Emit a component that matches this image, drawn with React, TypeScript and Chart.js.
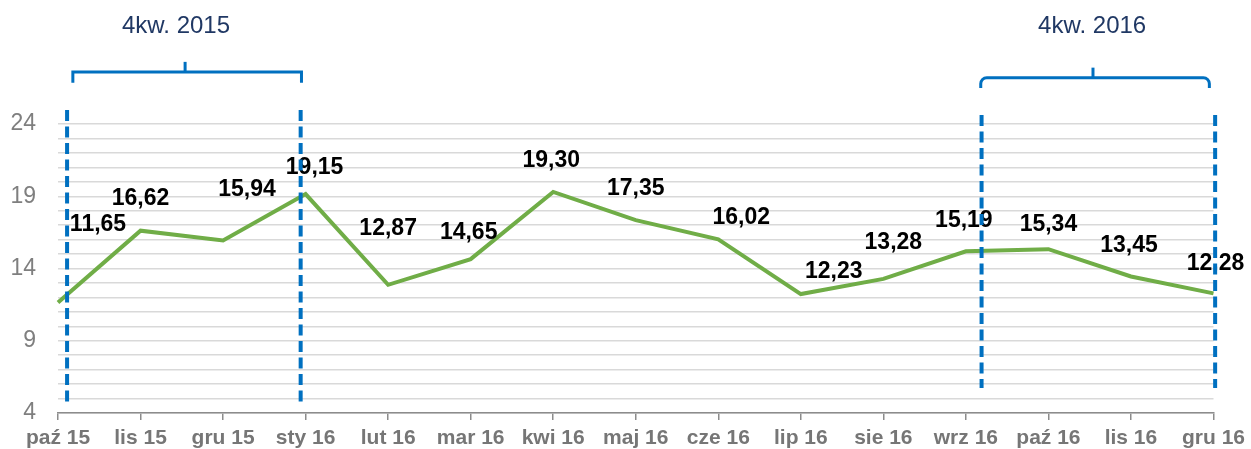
import React, { useEffect, useRef } from 'react';
import { Chart, registerables } from 'chart.js';

Chart.register(...registerables);

const categories = ['paź 15', 'lis 15', 'gru 15', 'sty 16', 'lut 16', 'mar 16', 'kwi 16', 'maj 16', 'cze 16', 'lip 16', 'sie 16', 'wrz 16', 'paź 16', 'lis 16', 'gru 16'];
const values = [11.65, 16.62, 15.94, 19.15, 12.87, 14.65, 19.30, 17.35, 16.02, 12.23, 13.28, 15.19, 15.34, 13.45, 12.28];
const yTickLabels = [4, 9, 14, 19, 24];
const quarterLabels = ['4kw. 2015', '4kw. 2016'];

// label placement offsets (px) relative to each point
const labelDx = [40, 0, 24, 9, 0, -2, -2, 0, 23, 33, 10, -2, 0, -2, 2];
const labelDy = [-78, -32, -51, -26, -56, -26, -31, -31, -22, -22, -36, -31, -24, -31, -30];

// quarter annotations: [dashStartIdx, dashEndIdx, dashTopVal, dashBottomVal, barStartIdx, barEndIdx, barVal, endVal, tickIdx, tickVal, cornerRadius]
const quarterMarks = [
  [0.11, 2.94, 24.97, 4.69, 0.18, 2.95, 27.6, 26.85, 1.54, 28.3, 0],
  [11.19, 14.02, 24.62, 5.73, 11.18, 13.95, 27.2, 26.5, 12.54, 27.9, 6],
];
const quarterTextX = [1.43, 12.53];

const FONT = '"Liberation Sans", Arial, sans-serif';

const fmt = (v: number) => v.toFixed(2).replace('.', ',');

const overlayPlugin = {
  id: 'overlay',
  afterDatasetsDraw(chart: any) {
    const ctx = chart.ctx;
    const meta = chart.getDatasetMeta(0);
    const xs = chart.scales.x;
    const ys = chart.scales.y;
    ctx.save();
    // data labels
    ctx.font = `bold 23px ${FONT}`;
    ctx.fillStyle = '#000000';
    ctx.textAlign = 'center';
    ctx.textBaseline = 'middle';
    meta.data.forEach((pt: any, i: number) => {
      ctx.fillText(fmt(values[i]), pt.x + labelDx[i], pt.y + labelDy[i]);
    });
    // quarter annotations
    quarterMarks.forEach((q, k) => {
      const [d1, d2, dTop, dBot, b1, b2, bVal, eVal, tIdx, tVal, r] = q;
      ctx.strokeStyle = '#0070c0';
      ctx.lineWidth = 4;
      ctx.setLineDash([11, 5.5]);
      [d1, d2].forEach((di) => {
        const x = xs.getPixelForValue(di);
        ctx.beginPath();
        ctx.moveTo(x, ys.getPixelForValue(dTop));
        ctx.lineTo(x, ys.getPixelForValue(dBot));
        ctx.stroke();
      });
      ctx.setLineDash([]);
      ctx.lineWidth = 3;
      const xa = xs.getPixelForValue(b1);
      const xb = xs.getPixelForValue(b2);
      const yb = ys.getPixelForValue(bVal);
      const ye = ys.getPixelForValue(eVal);
      ctx.beginPath();
      ctx.moveTo(xa, ye);
      if (r > 0) {
        ctx.arcTo(xa, yb, xb, yb, r);
        ctx.arcTo(xb, yb, xb, ye, r);
      } else {
        ctx.lineTo(xa, yb);
        ctx.lineTo(xb, yb);
      }
      ctx.lineTo(xb, ye);
      ctx.stroke();
      const xt = xs.getPixelForValue(tIdx);
      ctx.beginPath();
      ctx.moveTo(xt, yb);
      ctx.lineTo(xt, ys.getPixelForValue(tVal));
      ctx.stroke();
      ctx.font = `24px ${FONT}`;
      ctx.fillStyle = '#203864';
      ctx.textAlign = 'center';
      ctx.textBaseline = 'middle';
      ctx.fillText(quarterLabels[k], xs.getPixelForValue(quarterTextX[k]), 26);
    });
    ctx.restore();
  },
};

export default function App() {
  const ref = useRef<HTMLCanvasElement | null>(null);
  useEffect(() => {
    if (!ref.current) return;
    const chart = new Chart(ref.current, {
      type: 'line',
      data: {
        labels: categories,
        datasets: [
          {
            data: values,
            borderColor: '#70ad47',
            borderWidth: 4,
            pointRadius: 0,
            pointHoverRadius: 0,
            tension: 0,
            fill: false,
          },
        ],
      },
      options: {
        animation: false,
        responsive: false,
        maintainAspectRatio: false,
        events: [],
        layout: { padding: { top: 124, right: 36, left: 0, bottom: 0 } },
        plugins: {
          legend: { display: false },
          tooltip: { enabled: false },
          title: { display: false },
        },
        scales: {
          x: {
            offset: false,
            grid: {
              display: true,
              drawOnChartArea: false,
              drawTicks: true,
              tickLength: 7,
              color: '#8c8c8c',
              lineWidth: 1.5,
            },
            border: { display: true, color: '#8c8c8c', width: 1.5 },
            ticks: {
              color: '#767676',
              font: { family: FONT, size: 21, weight: 'bold' },
              padding: 6,
              maxRotation: 0,
              autoSkip: false,
            },
            afterFit: (s: any) => {
              s.height = 36;
            },
          },
          y: {
            min: 4,
            max: 24,
            grid: {
              color: '#d9d9d9',
              lineWidth: 1.5,
              drawTicks: false,
            },
            border: { display: false },
            ticks: {
              stepSize: 1,
              autoSkip: false,
              color: '#7f7f7f',
              padding: 22,
              font: { family: FONT, size: 23 },
              callback: (v: any) => (yTickLabels.includes(Number(v)) ? String(v) : ''),
            },
            afterFit: (s: any) => {
              s.width = 58;
            },
          },
        },
      },
      plugins: [overlayPlugin],
    });
    return () => chart.destroy();
  }, []);
  return (
    <div style={{ position: 'fixed', left: 0, top: 0, width: 1251, height: 449, background: '#fff' }}>
      <canvas ref={ref} width={1251} height={449} style={{ width: 1251, height: 449 }} />
    </div>
  );
}
